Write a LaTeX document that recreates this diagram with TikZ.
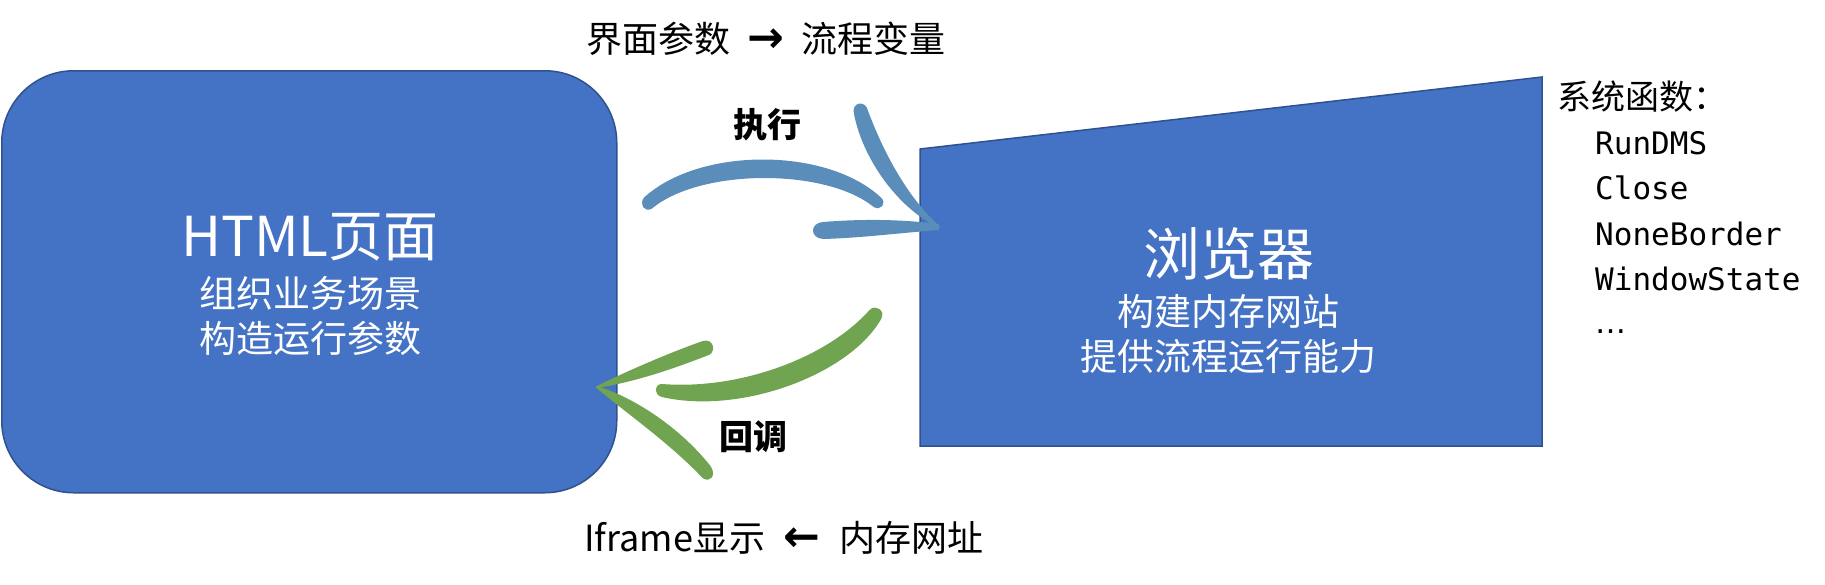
\documentclass[tikz,border=0pt]{standalone}
\usepackage{fontspec}
\setmainfont{Noto Sans CJK SC}
\newfontfamily\mono{DejaVu Sans Mono}
\newfontfamily\dvs{DejaVu Sans}
\definecolor{boxblue}{HTML}{4472C4}
\definecolor{boxedge}{HTML}{2F528F}
\definecolor{arrblue}{RGB}{91,141,186}
\definecolor{arrgreen}{RGB}{112,164,80}
\begin{document}
\begin{tikzpicture}[x=1pt,y=-1pt,
  shapebox/.style={fill=boxblue,draw=boxedge,line width=1.5pt},
  brushb/.style={fill=arrblue,draw=arrblue,line width=2pt,line join=round},
  brushg/.style={fill=arrgreen,draw=arrgreen,line width=2pt,line join=round},
  intext/.style={text=white,inner sep=0pt,align=center},
  lbl/.style={inner sep=0pt,font=\fontsize{34}{40}\selectfont\bfseries},
  plain/.style={inner sep=0pt},
  fn/.style={inner sep=0pt,anchor=base west,font=\mono\fontsize{31}{40}\selectfont}]
\useasboundingbox (0,0) rectangle (1825,584);

% left rounded box
\node[shapebox, rounded corners=72pt, minimum width=615pt, minimum height=422pt,
      anchor=north west, inner sep=0pt] (html) at (1,70) {};
\node[intext, font=\fontsize{55}{60}\selectfont] (htmlt) at (310,237) {HTML页面};
\node[intext, font=\fontsize{37}{45}\selectfont] (htmls) at (310,315.5) {组织业务场景\\构造运行参数};

% browser quadrilateral
\coordinate (b1) at (920,149);
\coordinate (b2) at (1542,77);
\coordinate (b3) at (1542,446);
\coordinate (b4) at (920,446);
\draw[shapebox] (b1) -- (b2) -- (b3) -- (b4) -- cycle;
\node[intext, font=\fontsize{57}{60}\selectfont] (brt) at (1229,254) {浏览器};
\node[intext, font=\fontsize{37}{45}\selectfont] (brs) at (1228,333.5) {构建内存网站\\提供流程运行能力};

% system functions
\node[plain, anchor=base west, font=\fontsize{34}{40}\selectfont] (funct) at (1557,109) {系统函数：};
\node[fn] (f1) at (1595,154) {RunDMS};
\node[fn] (f2) at (1595,199.5) {Close};
\node[fn] (f3) at (1595,245) {NoneBorder};
\node[fn] (f4) at (1595,290.5) {WindowState};
\node[fn, font=\dvs\fontsize{31}{40}\selectfont] (f5) at (1595,333) {…};

% top and bottom texts
\node[plain, anchor=base, font=\fontsize{36}{40}\selectfont] (toptext) at (766,52)
  {界面参数\hspace{17pt}{\dvs\bfseries\fontsize{44}{44}\selectfont →}\hspace{17pt}流程变量};
\node[plain, anchor=base, font=\fontsize{36}{40}\selectfont] (bottext) at (784,551)
  {Iframe显示\hspace{19pt}{\dvs\bfseries\fontsize{44}{44}\selectfont ←}\hspace{19pt}内存网址};

% labels
\node[lbl] (exec) at (767,125) {执行};
\node[lbl] (back) at (753,437) {回调};

% blue brush arrow (execute)
\path[brushb] (645,198) .. controls (700,148) and (826,148) .. (880,198)
  .. controls (886,203) and (880,210) .. (874,206)
  .. controls (826,167) and (700,167) .. (651,208)
  .. controls (645,211) and (640,204) .. cycle;
\path[brushb] (867,111) .. controls (880,146) and (904,196) .. (939,227)
  .. controls (895,205) and (863,155) .. (855,114)
  .. controls (852,103) and (865,101) .. cycle;
\path[brushb] (938,225) .. controls (900,220) and (860,220) .. (823,223)
  .. controls (811,224) and (811,237) .. (823,238)
  .. controls (860,237) and (900,232) .. (938,229) -- cycle;

% green brush arrow (callback)
\path[brushg] (880,319) .. controls (848,374) and (740,414) .. (662,396)
  .. controls (655,394) and (655,385) .. (662,385)
  .. controls (738,391) and (826,360) .. (870,311)
  .. controls (875,305) and (885,311) .. cycle;
\path[brushg] (597,387) .. controls (640,366) and (680,350) .. (703,342)
  .. controls (713,339) and (716,353) .. (706,355)
  .. controls (680,365) and (640,380) .. cycle;
\path[brushg] (597,387) .. controls (635,399) and (680,429) .. (710,467)
  .. controls (715,475) and (710,482) .. (703,477)
  .. controls (670,442) and (625,411) .. cycle;
\end{tikzpicture}
\end{document}
